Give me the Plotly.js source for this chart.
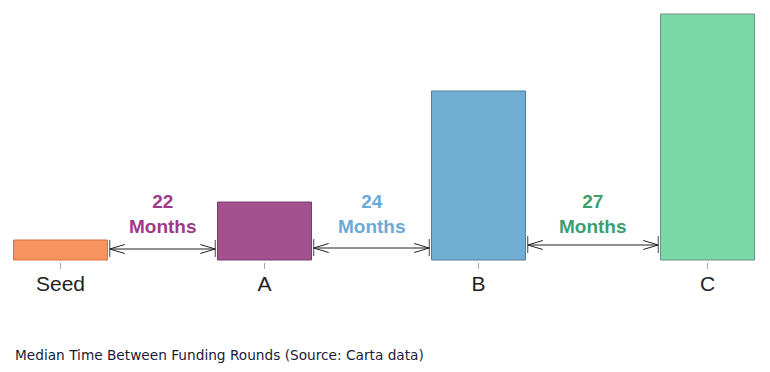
<!DOCTYPE html>
<html>
<head>
<meta charset="utf-8">
<script src="https://cdn.plot.ly/plotly-3.0.1.min.js"></script>
<style>html,body{margin:0;padding:0;background:#fff}#chart{width:770px;height:372px}</style>
</head>
<body>
<div id="chart"></div>
<script>
// ---- data ----
const categories = ['Seed', 'A', 'B', 'C'];
const barValues = [20, 58, 169, 246];          // relative bar heights
const monthsBetween = [22, 24, 27];             // median months between rounds
const captionText = 'Median Time Between Funding Rounds (Source: Carta data)';

// ---- style ----
const barFill = ['#F6935F', '#A4528F', '#72AED4', '#78D9A7'];
const barEdge = ['#D9703A', '#7C3C6C', '#4F7F9E', '#6F8F7F'];
const labelColor = ['#9E3A8A', '#6AAAD6', '#3E9E6E'];
const BAR_W = 18.8;       // bar width in months
const INSET = 0.45;       // arrow inset from bar edge (months)
const arrowY = [11, 12, 15];
const textY = 46;

// bar centres: positioned along a month axis
const centers = [0];
for (let i = 1; i < categories.length; i++) {
  centers.push(centers[i - 1] + BAR_W + monthsBetween[i - 1]);
}

const trace = {
  type: 'bar',
  x: centers,
  y: barValues,
  width: BAR_W,
  marker: { color: barFill, line: { color: barEdge, width: 1 } },
  hoverinfo: 'skip'
};

const shapes = [];
const annotations = [];
const HL = 3, HH = 4.5;
monthsBetween.forEach((m, i) => {
  const x0 = centers[i] + BAR_W / 2 + INSET;
  const x1 = centers[i + 1] - BAR_W / 2 - INSET;
  const y = arrowY[i];
  const ln = { color: '#222', width: 1 };
  shapes.push({ type: 'line', xref: 'x', yref: 'y', x0: x0, x1: x1, y0: y, y1: y, line: ln });
  shapes.push({ type: 'path', xref: 'x', yref: 'y', path: `M ${x0 + HL},${y + HH} L ${x0},${y} L ${x0 + HL},${y - HH}`, line: ln });
  shapes.push({ type: 'path', xref: 'x', yref: 'y', path: `M ${x1 - HL},${y + HH} L ${x1},${y} L ${x1 - HL},${y - HH}`, line: ln });
  shapes.push({ type: 'line', xref: 'x', yref: 'y', x0: x0, x1: x0, y0: y - 8, y1: y + 9, line: { color: '#444', width: 1 } });
  shapes.push({ type: 'line', xref: 'x', yref: 'y', x0: x1, x1: x1, y0: y - 8, y1: y + 9, line: { color: '#444', width: 1 } });
  annotations.push({
    xref: 'x', yref: 'y', x: (x0 + x1) / 2, y: textY,
    text: `<b>${m}<br>Months</b>`, showarrow: false,
    xanchor: 'center', yanchor: 'middle', align: 'center',
    font: { family: 'Liberation Sans, Arial, sans-serif', size: 19, color: labelColor[i] }
  });
});

annotations.push({
  xref: 'paper', yref: 'paper', x: 13 / 770, y: (260 - 353) / 262,
  xanchor: 'left', yanchor: 'middle', showarrow: false,
  text: captionText,
  font: { family: 'DejaVu Sans, sans-serif', size: 13.7, color: '#1b1b33' }
});

const layout = {
  width: 770, height: 372,
  margin: { l: 0, r: 0, t: 0, b: 110 },
  paper_bgcolor: '#fff', plot_bgcolor: '#fff',
  showlegend: false,
  xaxis: {
    range: [-12.1, 141.9],
    tickvals: centers, ticktext: categories,
    ticks: 'outside', ticklen: 6, tickcolor: '#aaa', tickwidth: 1,
    ticklabelstandoff: -3,
    showgrid: false, zeroline: false, showline: false,
    tickfont: { family: 'Liberation Sans, Arial, sans-serif', size: 21, color: '#222' }
  },
  yaxis: { range: [-2, 260], visible: false, showgrid: false, zeroline: false },
  shapes: shapes,
  annotations: annotations
};

Plotly.newPlot('chart', [trace], layout, { displayModeBar: false, staticPlot: true });
</script>
</body>
</html>
